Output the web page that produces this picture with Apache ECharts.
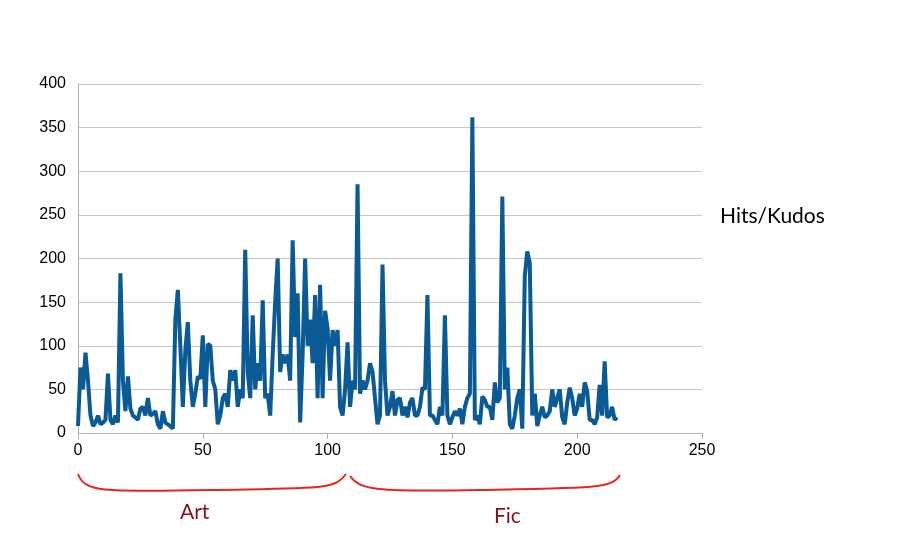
<!DOCTYPE html>
<html><head><meta charset="utf-8">
<script src="https://cdn.jsdelivr.net/npm/echarts@6/dist/echarts.min.js"></script>
<style>html,body{margin:0;padding:0;background:#fff}#c{width:917px;height:536px}</style>
</head><body><div id="c"></div>
<script>
const hitsPerKudos = [8,75,50,92,60,20,8,12,20,10,12,15,68,15,10,20,12,183,60,25,65,28,20,18,15,28,30,20,40,20,22,25,10,5,25,12,10,8,5,130,164,100,30,95,127,60,30,45,65,62,112,30,102,100,60,50,10,20,40,45,30,72,60,72,30,50,40,210,70,40,135,50,80,60,152,40,45,20,90,150,200,70,90,80,90,60,221,110,160,12,90,200,100,130,80,158,40,170,40,140,120,60,118,100,118,30,20,50,104,30,60,
50,285,45,60,50,60,80,70,40,10,20,193,60,20,30,48,20,38,40,20,30,18,35,40,20,20,30,52,50,158,20,20,15,10,30,20,135,20,10,18,25,20,28,10,30,40,45,362,15,20,10,42,38,30,30,15,58,35,40,271,50,75,10,5,20,40,50,5,180,208,195,20,45,8,20,30,18,20,25,50,30,40,50,18,10,35,52,40,20,28,45,30,58,48,15,15,10,18,55,20,82,18,20,30,15,18];
const yTicks = [0,50,100,150,200,250,300,350,400];
const xTicks = [0,50,100,150,200,250];
const seriesName = "Hits/Kudos";
const groups = ["Art","Fic"];

const chart = echarts.init(document.getElementById('c'));
const lbl = {color:'#000',fontSize:16,fontFamily:'Liberation Sans, Arial'};
chart.setOption({
  animation:false,
  grid:{left:78,right:215,top:84,bottom:103},
  xAxis:{type:'value',min:xTicks[0],max:xTicks[xTicks.length-1],interval:50,
    axisLine:{lineStyle:{color:'#b3b3b3'}},axisTick:{show:true,length:6,lineStyle:{color:'#b3b3b3'}},
    splitLine:{show:false},axisLabel:Object.assign({margin:10},lbl)},
  yAxis:{type:'value',min:yTicks[0],max:yTicks[yTicks.length-1],interval:50,
    axisLine:{show:true,lineStyle:{color:'#b3b3b3'}},axisTick:{show:false},
    splitLine:{lineStyle:{color:'#c8c8c8'}},axisLabel:Object.assign({margin:12},lbl)},
  series:[{type:'line',name:seriesName,data:hitsPerKudos.map((v,i)=>[i,v]),showSymbol:false,
    lineStyle:{color:'#0a5a96',width:4},itemStyle:{color:'#0a5a96'}}],
  graphic:[
    {type:'text',left:720,top:206,style:{text:seriesName,fontSize:21,fill:'#000',fontFamily:'Lato, sans-serif'}},
    {type:'bezierCurve',shape:{x1:78,y1:474,cpx1:85,cpy1:492,x2:210,y2:490,cpx2:100,cpy2:492},style:{stroke:'#e8261c',lineWidth:2,fill:null}},
    {type:'bezierCurve',shape:{x1:210,y1:490,cpx1:320,cpy1:488,x2:346,y2:474,cpx2:335,cpy2:490},style:{stroke:'#e8261c',lineWidth:2,fill:null}},
    {type:'bezierCurve',shape:{x1:350,y1:476,cpx1:360,cpy1:490,x2:480,y2:490,cpx2:375,cpy2:492},style:{stroke:'#e8261c',lineWidth:2,fill:null}},
    {type:'bezierCurve',shape:{x1:480,y1:490,cpx1:600,cpy1:488,x2:620,y2:475,cpx2:612,cpy2:488},style:{stroke:'#e8261c',lineWidth:2,fill:null}},
    {type:'text',left:180,top:502,style:{text:groups[0],fontSize:21,fill:'#8b1010',fontFamily:'Lato, sans-serif'}},
    {type:'text',left:494,top:506,style:{text:groups[1],fontSize:21,fill:'#8b1010',fontFamily:'Lato, sans-serif'}}
  ]
});
</script></body></html>
